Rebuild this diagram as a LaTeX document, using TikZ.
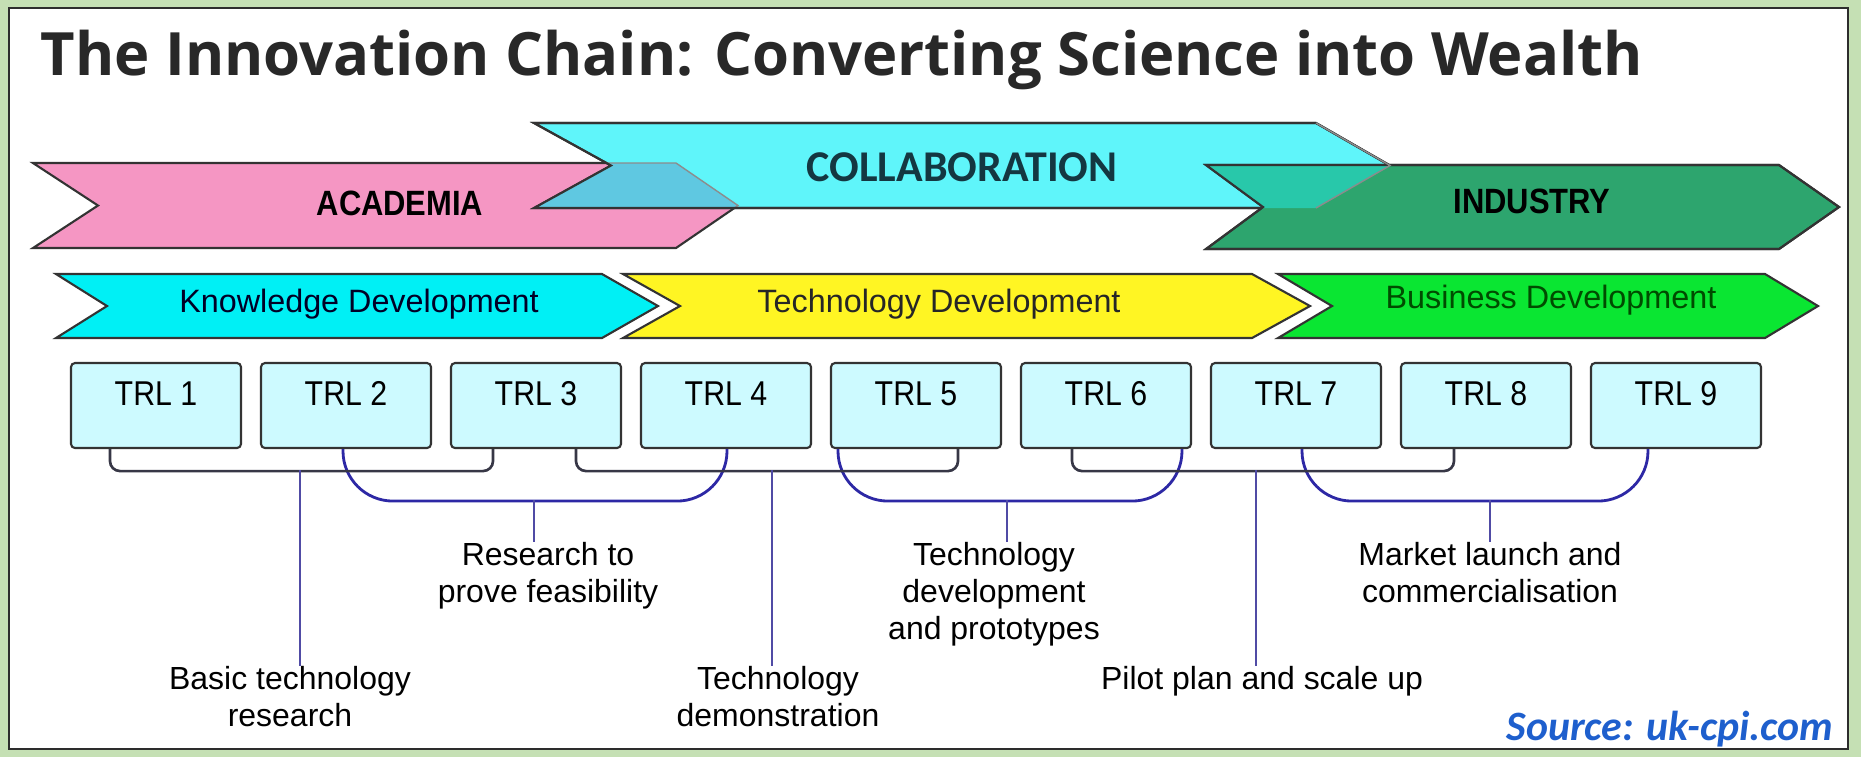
\documentclass[tikz,border=0pt]{standalone}
\usepackage{fontspec}
\setmainfont{Liberation Sans}
\newfontfamily\titlefont{Open Sans}
\newfontfamily\calfont{Carlito}
\newfontfamily\narrowfont[FakeStretch=0.88]{Liberation Sans}
\usetikzlibrary{positioning, calc}

\definecolor{framegreen}{RGB}{197,224,180}
\definecolor{framedark}{RGB}{45,45,45}
\definecolor{academia}{RGB}{245,150,195}
\definecolor{collab}{RGB}{95,245,250}
\definecolor{industry}{RGB}{45,165,110}
\definecolor{overlapA}{RGB}{95,200,225}
\definecolor{overlapB}{RGB}{40,200,170}
\definecolor{knowledge}{RGB}{0,240,245}
\definecolor{technology}{RGB}{255,245,35}
\definecolor{business}{RGB}{10,230,50}
\definecolor{trlfill}{RGB}{205,250,255}
\definecolor{bracketdark}{RGB}{55,55,70}
\definecolor{bracketblue}{RGB}{45,40,165}
\definecolor{stemblue}{RGB}{80,75,165}
\definecolor{sourceblue}{RGB}{30,95,205}
\definecolor{titlegray}{RGB}{40,40,40}
\definecolor{collabtext}{RGB}{20,55,65}

\tikzset{
x=0.1mm, y=-0.1mm, % one unit is one pixel of the original, y runs down
node distance=19mm, % pitch of the TRL boxes
band/.style={draw=black!80, line width=0.6pt}, % outline of the chevron bands
trlbox/.style={draw=black!80, fill=trlfill, line width=0.6pt, rounded corners=0.4mm,
  minimum width=17mm, minimum height=8.5mm, text height=2.5mm, text depth=2.5mm,
  font=\narrowfont\fontsize{9.8}{11}\selectfont},
bandtext/.style={inner sep=0pt, font=\fontsize{9.2}{11}\selectfont}, % text in the phase bands
sectortext/.style={inner sep=0pt, font=\narrowfont\bfseries\fontsize{10}{12}\selectfont},
darkbracket/.style={draw=bracketdark, line width=0.75pt, rounded corners=1mm},
bluebracket/.style={draw=bracketblue, line width=0.8pt, rounded corners=5mm},
stem/.style={draw=stemblue, line width=0.6pt},
lbl/.style={anchor=north, align=center, inner sep=0pt, font=\fontsize{9.1}{10.5}\selectfont},
}

\def\academiapath{(33,163) -- (676,163) -- (738,205.5) -- (676,248) -- (33,248) -- (98,205.5) -- cycle}
\def\collabpath{(534,123) -- (1316,123) -- (1390,165.5) -- (1316,208) -- (534,208) -- (611,165.5) -- cycle}
\def\industrypath{(1206,165) -- (1779,165) -- (1839,207) -- (1779,249) -- (1206,249) -- (1263,207) -- cycle}

\begin{document}
\begin{tikzpicture}
        \useasboundingbox (0,0) rectangle (1861,757);
        % frame
        \fill[framegreen] (0,0) rectangle (1861,757);
        \filldraw[fill=white, draw=framedark, line width=0.6pt] (9,8) rectangle (1848,749);

        \node[anchor=base west, inner sep=0pt, text=titlegray,
              font=\titlefont\bfseries\fontsize{17}{20}\selectfont] (title) at (40,75)
              {The Innovation Chain: Converting Science into Wealth};

        % Sector bands
        \draw[band, fill=academia] \academiapath;
        \draw[band, fill=collab] \collabpath;
        \begin{scope}
            \clip \academiapath;
            \fill[overlapA] \collabpath;
        \end{scope}
        \begin{scope}
            \clip \collabpath;
            \draw[black!45, line width=0.4pt] \academiapath;
        \end{scope}
        \draw[band] \collabpath;
        \draw[band, fill=industry] \industrypath;
        \begin{scope}
            \clip \collabpath;
            \fill[overlapB] \industrypath;
        \end{scope}
        \draw[band] \industrypath;
        \draw[black!45, line width=0.4pt] (1316,123) -- (1390,165.5) -- (1316,208);

        \node[sectortext] (academia) at (400,203) {ACADEMIA};
        \node[inner sep=0pt, text=collabtext, font=\calfont\bfseries\fontsize{12.5}{14}\selectfont] (collaboration) at (962,167) {COLLABORATION};
        \node[sectortext] (industry) at (1532,201) {INDUSTRY};

        % Phase bands
        \draw[band, fill=knowledge] (56,274) -- (602,274) -- (658,306) -- (602,338) -- (56,338) -- (107,306) -- cycle;
        \draw[band, fill=technology] (623,274) -- (1252,274) -- (1310,306) -- (1252,338) -- (623,338) -- (680,306) -- cycle;
        \draw[band, fill=business] (1278,274) -- (1765,274) -- (1818,306) -- (1765,338) -- (1278,338) -- (1332,306) -- cycle;

        \node[bandtext, text=black!85!blue] (knowdev) at (359,304) {Knowledge Development};
        \node[bandtext, text=black!85] (techdev) at (939,304) {Technology Development};
        \node[bandtext, text=black!70!green] (busdev) at (1551,300) {Business Development};

        % TRL boxes
        \node[trlbox] (trl1) at (156,405.5) {TRL 1};
        \node[trlbox, right of=trl1] (trl2) {TRL 2};
        \node[trlbox, right of=trl2] (trl3) {TRL 3};
        \node[trlbox, right of=trl3] (trl4) {TRL 4};
        \node[trlbox, right of=trl4] (trl5) {TRL 5};
        \node[trlbox, right of=trl5] (trl6) {TRL 6};
        \node[trlbox, right of=trl6] (trl7) {TRL 7};
        \node[trlbox, right of=trl7] (trl8) {TRL 8};
        \node[trlbox, right of=trl8] (trl9) {TRL 9};

        % Stage labels
        \node[lbl] (basic) at (290,666) {Basic technology\\research};
        \node[lbl] (feasible) at (548,542) {Research to\\prove feasibility};
        \node[lbl] (demo) at (778,666) {Technology\\demonstration};
        \node[lbl] (proto) at (994,542) {Technology\\development\\and prototypes};
        \node[lbl] (pilot) at (1262,666) {Pilot plan and scale up};
        \node[lbl] (market) at (1490,542) {Market launch and\\commercialisation};

        % Brackets
        \draw[bluebracket] ($(trl2.south)+(-3,0)$) |- ($(trl4.south)+(1,52)$) -- ($(trl4.south)+(1,0)$);
        \draw[bluebracket] ($(trl5.south)+(-78,0)$) |- ($(trl6.south)+(76,52)$) -- ($(trl6.south)+(76,0)$);
        \draw[bluebracket] ($(trl7.south)+(6,0)$) |- ($(trl9.south)+(-28,52)$) -- ($(trl9.south)+(-28,0)$);
        \draw[darkbracket] ($(trl1.south)+(-46,0)$) |- ($(trl3.south)+(-43,22)$) -- ($(trl3.south)+(-43,0)$);
        \draw[darkbracket] ($(trl3.south)+(40,0)$) |- ($(trl5.south)+(42,22)$) -- ($(trl5.south)+(42,0)$);
        \draw[darkbracket] ($(trl6.south)+(-34,0)$) |- ($(trl8.south)+(-32,22)$) -- ($(trl8.south)+(-32,0)$);

        \coordinate (b1) at (300,470);
        \coordinate (b2) at (534,500);
        \coordinate (b3) at (772,470);
        \coordinate (b4) at (1007,500);
        \coordinate (b5) at (1256,470);
        \coordinate (b6) at (1490,500);
        \draw[stem] (b1) -- (b1 |- basic.north);
        \draw[stem] (b2) -- (b2 |- feasible.north);
        \draw[stem] (b3) -- (b3 |- demo.north);
        \draw[stem] (b4) -- (b4 |- proto.north);
        \draw[stem] (b5) -- (b5 |- pilot.north);
        \draw[stem] (b6) -- (b6 |- market.north);

        \node[anchor=base east, inner sep=0pt, text=sourceblue,
              font=\calfont\bfseries\itshape\fontsize{11.9}{14}\selectfont] (source) at (1834,740) {Source: uk-cpi.com};
    \end{tikzpicture}
\end{document}
